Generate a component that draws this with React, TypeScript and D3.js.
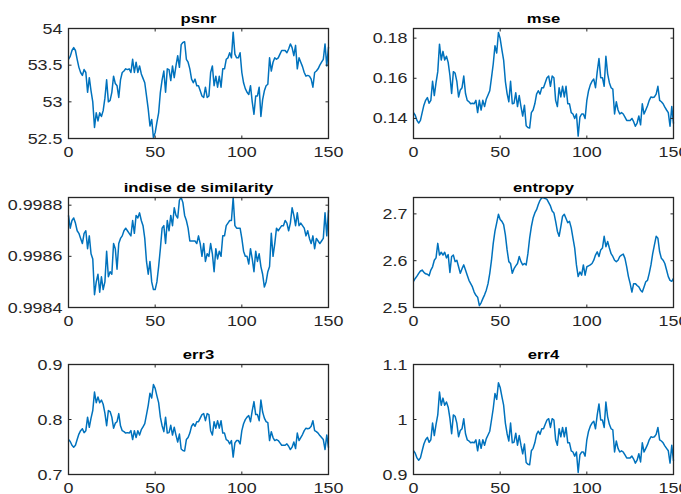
import React from 'react';
import * as d3 from 'd3';

const psnr = [53.58,53.62,53.70,53.74,53.70,53.58,53.47,53.40,53.36,53.44,53.40,53.13,53.33,53.15,53.00,52.65,52.85,52.74,52.85,52.80,52.88,53.05,53.30,53.00,53.02,53.13,53.35,53.25,53.22,53.06,53.30,53.40,53.42,53.45,53.44,53.45,53.40,53.58,53.40,53.54,53.40,53.49,53.38,53.32,53.26,53.08,52.90,52.67,52.76,52.51,52.58,52.72,52.85,53.13,53.30,53.42,53.13,53.45,53.44,53.29,53.49,53.33,53.49,53.63,53.47,53.78,53.81,53.82,53.58,53.54,53.45,53.31,53.26,53.31,53.22,53.22,53.15,53.08,53.06,53.20,53.06,53.08,53.40,53.49,53.22,53.35,53.20,53.35,53.20,53.45,53.45,53.58,53.60,53.67,53.60,53.95,53.65,53.60,53.60,53.67,53.40,53.26,53.18,53.13,53.10,53.22,53.00,52.83,53.08,53.08,53.20,52.80,53.03,53.15,53.22,53.24,53.60,53.42,53.54,53.60,53.58,53.60,53.65,53.70,53.70,53.70,53.67,53.72,53.79,53.74,53.63,53.77,53.45,53.60,53.54,53.48,53.40,53.35,53.36,53.35,53.31,53.20,53.40,53.42,53.45,53.50,53.54,53.58,53.79,53.49,53.75];

const mse = [0.1429,0.1416,0.1390,0.1377,0.1390,0.1429,0.1466,0.1490,0.1504,0.1476,0.1490,0.1585,0.1514,0.1578,0.1633,0.1770,0.1691,0.1734,0.1691,0.1710,0.1679,0.1615,0.1524,0.1633,0.1626,0.1585,0.1507,0.1542,0.1553,0.1611,0.1524,0.1490,0.1483,0.1473,0.1476,0.1473,0.1490,0.1429,0.1490,0.1442,0.1490,0.1459,0.1497,0.1517,0.1538,0.1603,0.1671,0.1762,0.1726,0.1828,0.1798,0.1742,0.1691,0.1585,0.1524,0.1483,0.1585,0.1473,0.1476,0.1528,0.1459,0.1514,0.1459,0.1412,0.1466,0.1364,0.1355,0.1352,0.1429,0.1442,0.1473,0.1521,0.1538,0.1521,0.1553,0.1553,0.1578,0.1603,0.1611,0.1560,0.1611,0.1603,0.1490,0.1459,0.1553,0.1507,0.1560,0.1507,0.1560,0.1473,0.1473,0.1429,0.1422,0.1400,0.1422,0.1312,0.1406,0.1422,0.1422,0.1400,0.1490,0.1538,0.1567,0.1585,0.1596,0.1553,0.1633,0.1698,0.1603,0.1603,0.1560,0.1710,0.1622,0.1578,0.1553,0.1546,0.1422,0.1483,0.1442,0.1422,0.1429,0.1422,0.1406,0.1390,0.1390,0.1390,0.1400,0.1384,0.1361,0.1377,0.1412,0.1368,0.1473,0.1422,0.1442,0.1463,0.1490,0.1507,0.1504,0.1507,0.1521,0.1560,0.1490,0.1483,0.1473,0.1456,0.1442,0.1429,0.1361,0.1459,0.1374];

const similarity = [0.99876,0.99871,0.99874,0.99875,0.99873,0.99870,0.99869,0.99867,0.99865,0.99869,0.99870,0.99863,0.99868,0.99861,0.99859,0.99845,0.99850,0.99853,0.99846,0.99852,0.99847,0.99850,0.99862,0.99852,0.99854,0.99853,0.99865,0.99863,0.99855,0.99865,0.99867,0.99868,0.99870,0.99871,0.99870,0.99869,0.99868,0.99874,0.99869,0.99876,0.99875,0.99877,0.99874,0.99872,0.99867,0.99858,0.99853,0.99858,0.99850,0.99847,0.99847,0.99850,0.99856,0.99863,0.99871,0.99872,0.99865,0.99874,0.99870,0.99876,0.99872,0.99879,0.99876,0.99875,0.99882,0.99883,0.99881,0.99876,0.99874,0.99871,0.99866,0.99866,0.99866,0.99866,0.99865,0.99868,0.99865,0.99860,0.99865,0.99858,0.99861,0.99860,0.99865,0.99861,0.99854,0.99863,0.99859,0.99862,0.99860,0.99868,0.99868,0.99872,0.99873,0.99874,0.99874,0.99883,0.99872,0.99871,0.99871,0.99871,0.99867,0.99862,0.99860,0.99860,0.99857,0.99863,0.99859,0.99854,0.99862,0.99858,0.99861,0.99856,0.99853,0.99848,0.99850,0.99854,0.99856,0.99869,0.99860,0.99865,0.99871,0.99870,0.99871,0.99872,0.99872,0.99874,0.99873,0.99870,0.99873,0.99879,0.99876,0.99872,0.99877,0.99872,0.99873,0.99872,0.99871,0.99868,0.99870,0.99867,0.99865,0.99868,0.99863,0.99867,0.99866,0.99865,0.99866,0.99867,0.99877,0.99868,0.99878];

const entropy = [2.556,2.562,2.567,2.573,2.578,2.580,2.575,2.572,2.571,2.568,2.580,2.587,2.601,2.606,2.637,2.612,2.618,2.612,2.618,2.606,2.613,2.575,2.609,2.612,2.598,2.601,2.587,2.573,2.583,2.591,2.580,2.569,2.558,2.551,2.544,2.533,2.526,2.522,2.504,2.510,2.519,2.527,2.537,2.551,2.573,2.601,2.637,2.663,2.681,2.699,2.688,2.684,2.677,2.655,2.623,2.598,2.594,2.573,2.583,2.589,2.594,2.609,2.598,2.591,2.594,2.591,2.615,2.648,2.673,2.691,2.702,2.709,2.720,2.729,2.7345,2.7345,2.733,2.731,2.724,2.717,2.706,2.702,2.684,2.663,2.652,2.673,2.695,2.699,2.690,2.681,2.684,2.670,2.648,2.627,2.591,2.566,2.576,2.569,2.591,2.569,2.587,2.589,2.591,2.594,2.601,2.612,2.619,2.609,2.623,2.627,2.652,2.630,2.641,2.627,2.615,2.609,2.601,2.598,2.601,2.609,2.612,2.614,2.605,2.587,2.566,2.551,2.533,2.551,2.551,2.547,2.544,2.537,2.533,2.544,2.555,2.558,2.573,2.591,2.615,2.634,2.652,2.648,2.619,2.605,2.601,2.594,2.580,2.566,2.558,2.556,2.562];

const err3 = [0.7635,0.7600,0.7531,0.7497,0.7531,0.7635,0.7735,0.7797,0.7833,0.7761,0.7797,0.8043,0.7859,0.8025,0.8163,0.8499,0.8306,0.8411,0.8306,0.8353,0.8277,0.8117,0.7886,0.8163,0.8144,0.8043,0.7842,0.7933,0.7960,0.8107,0.7886,0.7797,0.7779,0.7753,0.7761,0.7753,0.7797,0.7635,0.7797,0.7672,0.7797,0.7717,0.7815,0.7868,0.7923,0.8089,0.8258,0.8479,0.8392,0.8636,0.8567,0.8431,0.8306,0.8043,0.7886,0.7779,0.8043,0.7753,0.7761,0.7895,0.7717,0.7859,0.7717,0.7591,0.7735,0.7463,0.7437,0.7429,0.7635,0.7672,0.7753,0.7877,0.7923,0.7877,0.7960,0.7960,0.8025,0.8089,0.8107,0.7979,0.8107,0.8089,0.7797,0.7717,0.7960,0.7842,0.7979,0.7842,0.7979,0.7753,0.7753,0.7635,0.7617,0.7557,0.7617,0.7317,0.7574,0.7617,0.7617,0.7557,0.7797,0.7923,0.7997,0.8043,0.8070,0.7960,0.8163,0.8325,0.8089,0.8089,0.7979,0.8353,0.8135,0.8025,0.7960,0.7942,0.7617,0.7779,0.7672,0.7617,0.7635,0.7617,0.7574,0.7531,0.7531,0.7531,0.7557,0.7514,0.7454,0.7497,0.7591,0.7471,0.7753,0.7617,0.7672,0.7726,0.7797,0.7842,0.7833,0.7842,0.7877,0.7979,0.7797,0.7779,0.7753,0.7708,0.7672,0.7635,0.7454,0.7717,0.7488];

const err4 = [0.9431,0.9388,0.9302,0.9260,0.9302,0.9431,0.9554,0.9631,0.9675,0.9587,0.9631,0.9935,0.9708,0.9912,1.0083,1.0498,1.0260,1.0389,1.0260,1.0318,1.0224,1.0026,0.9741,1.0083,1.0059,0.9935,0.9686,0.9799,0.9832,1.0014,0.9741,0.9631,0.9609,0.9576,0.9587,0.9576,0.9631,0.9431,0.9631,0.9476,0.9631,0.9532,0.9653,0.9719,0.9787,0.9991,1.0200,1.0473,1.0366,1.0667,1.0582,1.0414,1.0260,0.9935,0.9741,0.9609,0.9935,0.9576,0.9587,0.9752,0.9532,0.9708,0.9532,0.9377,0.9554,0.9218,0.9186,0.9176,0.9431,0.9476,0.9576,0.9730,0.9787,0.9730,0.9832,0.9832,0.9912,0.9991,1.0014,0.9856,1.0014,0.9991,0.9631,0.9532,0.9832,0.9686,0.9856,0.9686,0.9856,0.9576,0.9576,0.9431,0.9409,0.9334,0.9409,0.9038,0.9355,0.9409,0.9409,0.9334,0.9631,0.9787,0.9878,0.9935,0.9968,0.9832,1.0083,1.0283,0.9991,0.9991,0.9856,1.0318,1.0048,0.9912,0.9832,0.9810,0.9409,0.9609,0.9476,0.9409,0.9431,0.9409,0.9355,0.9302,0.9302,0.9302,0.9334,0.9281,0.9207,0.9260,0.9377,0.9228,0.9576,0.9409,0.9476,0.9543,0.9631,0.9686,0.9675,0.9686,0.9730,0.9856,0.9631,0.9609,0.9576,0.9521,0.9476,0.9431,0.9207,0.9532,0.9249];

const titles = ['psnr', 'mse', 'indise de similarity', 'entropy', 'err3', 'err4'];
const xTicks = [0, 50, 100, 150];
const xDomain = [0, 150];
const psnrTicks = [52.5, 53, 53.5, 54];
const mseTicks = [0.14, 0.16, 0.18];
const simTicks = [0.9984, 0.9986, 0.9988];
const entTicks = [2.5, 2.6, 2.7];
const err3Ticks = [0.7, 0.8, 0.9];
const err4Ticks = [0.9, 1, 1.1];
const psnrDomain = [52.5, 54];
const mseDomain = [0.13, 0.1848];
const simDomain = [0.9984, 0.99883];
const entDomain = [2.5, 2.735];
const err3Domain = [0.7, 0.9];
const err4Domain = [0.9, 1.1];

const seriesList = [psnr, mse, similarity, entropy, err3, err4];
const tickList = [psnrTicks, mseTicks, simTicks, entTicks, err3Ticks, err4Ticks];
const domainList = [psnrDomain, mseDomain, simDomain, entDomain, err3Domain, err4Domain];

const COLS = [68.5, 413.5];
const ROWS = [28.5, 197.5, 364.5];
const PW = 260;
const PH = 110;
const SX = 1.28;
const FONT = 'Liberation Sans, Arial, Helvetica, sans-serif';
const AX = '#262626';
const LINE = '#0072BD';

function Panel({ idx }: { idx: number }) {
  const left = COLS[idx % 2];
  const top = ROWS[Math.floor(idx / 2)];
  const x = d3.scaleLinear().domain(xDomain).range([left, left + PW]);
  const y = d3.scaleLinear().domain(domainList[idx]).range([top + PH, top]);
  const data = seriesList[idx];
  const line = d3.line<number>().x((_, i) => x(i)).y((d) => y(d));
  const tl = 3;
  return (
    <g>
      <rect x={left} y={top} width={PW} height={PH} fill="#fff" />
      <path d={line(data) || ''} fill="none" stroke={LINE} strokeWidth={1.5} strokeLinejoin="round" />
      {xTicks.map((t) => (
        <g key={'x' + t}>
          <line x1={x(t)} x2={x(t)} y1={top + PH} y2={top + PH - tl} stroke={AX} strokeWidth={1} />
          <line x1={x(t)} x2={x(t)} y1={top} y2={top + tl} stroke={AX} strokeWidth={1} />
          <text transform={`translate(${x(t)},${top + PH + 18.5}) scale(${SX},1)`} textAnchor="middle" fontFamily={FONT} fontSize={14} fill={AX}>{String(t)}</text>
        </g>
      ))}
      {tickList[idx].map((t) => (
        <g key={'y' + t}>
          <line x1={left} x2={left + tl} y1={y(t)} y2={y(t)} stroke={AX} strokeWidth={1} />
          <line x1={left + PW} x2={left + PW - tl} y1={y(t)} y2={y(t)} stroke={AX} strokeWidth={1} />
          <text transform={`translate(${left - 6},${y(t) + 5}) scale(${SX},1)`} textAnchor="end" fontFamily={FONT} fontSize={14} fill={AX}>{String(t)}</text>
        </g>
      ))}
      <rect x={left} y={top} width={PW} height={PH} fill="none" stroke={AX} strokeWidth={1.3} />
      <text transform={`translate(${left + PW / 2},${top - 6}) scale(${SX},1)`} textAnchor="middle" fontFamily={FONT} fontSize={13} fontWeight="bold" fill="#000">{titles[idx]}</text>
    </g>
  );
}

export default function App() {
  return (
    <svg width={681} height={494} style={{ position: 'absolute', left: 0, top: 0, background: '#fff' }}>
      <rect x={0} y={0} width={681} height={494} fill="#fff" />
      {titles.map((_, i) => (
        <Panel key={i} idx={i} />
      ))}
    </svg>
  );
}
